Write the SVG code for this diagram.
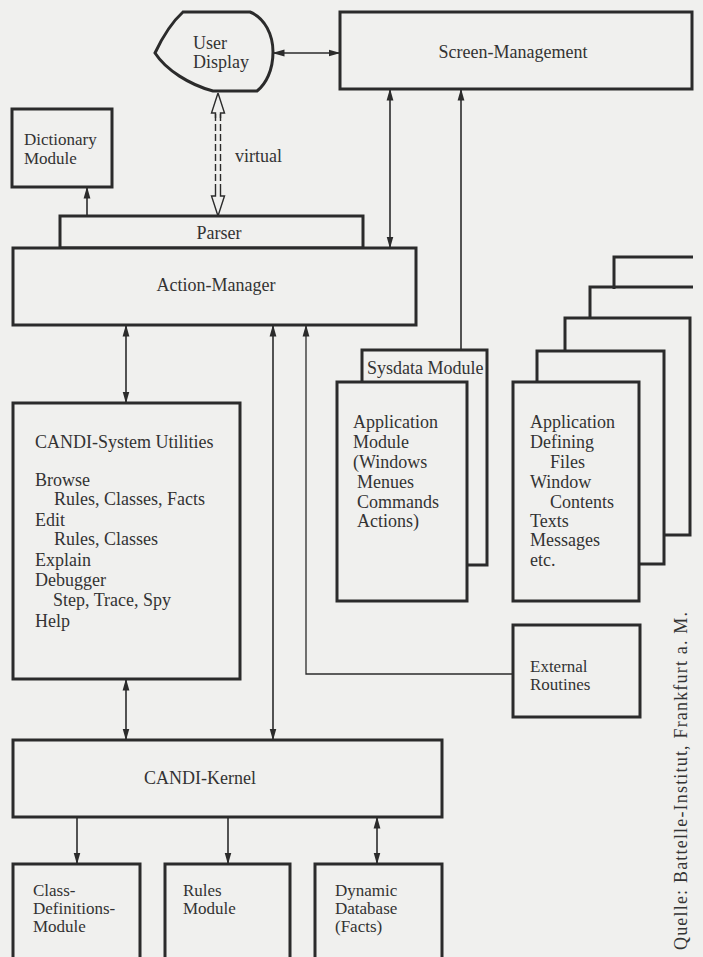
<svg xmlns="http://www.w3.org/2000/svg" width="703" height="957" viewBox="0 0 703 957">
  <style>
    .box { fill: #f0f0ee; stroke: #2b2b2b; stroke-width: 3; }
    .edge { fill: none; stroke: #2b2b2b; stroke-width: 1.6; }
    .thin { fill: none; stroke: #2b2b2b; stroke-width: 1.3; }
    text { font-family: "Liberation Serif", "Times New Roman", serif; font-size: 18px; fill: #333; }
    .mid { text-anchor: middle; }
    .tight { font-size: 17px; }
  </style>
  <defs>
    <marker id="arr" viewBox="0 0 12 8" refX="11.5" refY="4" markerWidth="12" markerHeight="8" markerUnits="userSpaceOnUse" orient="auto-start-reverse">
      <path d="M0,0.6 L12,4 L0,7.4 Z" fill="#2b2b2b"/>
    </marker>
  </defs>

  <rect x="0" y="0" width="703" height="957" fill="#f0f0ee"/>

  <!-- connectors -->
  <g id="connectors">
    <line class="edge" x1="273" y1="53" x2="340" y2="53" marker-start="url(#arr)" marker-end="url(#arr)"/>
    <line class="edge" x1="390" y1="89" x2="390" y2="248" marker-start="url(#arr)" marker-end="url(#arr)"/>
    <line class="edge" x1="461" y1="350" x2="461" y2="89" marker-end="url(#arr)"/>
    <line class="edge" x1="87" y1="216" x2="87" y2="187" marker-end="url(#arr)"/>
    <line class="edge" x1="126" y1="325" x2="126" y2="403" marker-start="url(#arr)" marker-end="url(#arr)"/>
    <line class="edge" x1="126" y1="679" x2="126" y2="740" marker-start="url(#arr)" marker-end="url(#arr)"/>
    <line class="edge" x1="273" y1="325" x2="273" y2="740" marker-start="url(#arr)" marker-end="url(#arr)"/>
    <path class="thin" d="M513,674 H306 V325" marker-end="url(#arr)"/>
    <line class="edge" x1="77" y1="817" x2="77" y2="864" marker-end="url(#arr)"/>
    <line class="edge" x1="228" y1="817" x2="228" y2="864" marker-end="url(#arr)"/>
    <line class="edge" x1="377" y1="817" x2="377" y2="864" marker-start="url(#arr)" marker-end="url(#arr)"/>

    <!-- virtual link: hollow double arrow with dashed double shaft -->
    <g id="virtual-link">
      <path d="M215.5,114 V194 M220.5,114 V194" fill="none" stroke="#2b2b2b" stroke-width="1.4" stroke-dasharray="7,3"/>
      <path d="M218,93 L211.5,113 L215.5,113 L215.5,118 M218,93 L224.5,113 L220.5,113 L220.5,118" fill="none" stroke="#2b2b2b" stroke-width="1.4"/>
      <path d="M218,216 L211.5,196 L215.5,196 L215.5,191 M218,216 L224.5,196 L220.5,196 L220.5,191" fill="none" stroke="#2b2b2b" stroke-width="1.4"/>
      <text x="235" y="162">virtual</text>
    </g>
  </g>

  <g id="user-display">
    <path class="box" d="M183,12 H250 C265,18 273,35 273,52 C273,70 266,84 257,91 H213 C190,85 166,70 155,53 C163,36 172,22 183,12 Z"/>
    <text x="193" y="49">User</text>
    <text x="193" y="68">Display</text>
  </g>

  <g id="screen-management">
    <rect class="box" x="340" y="12" width="352" height="77"/>
    <text class="mid" x="513" y="58">Screen-Management</text>
  </g>

  <g id="dictionary-module">
    <rect class="box" x="12" y="109" width="100" height="78"/>
    <text class="tight" x="24" y="145">Dictionary</text>
    <text class="tight" x="24" y="164">Module</text>
  </g>

  <g id="parser">
    <rect class="box" x="60" y="216" width="303" height="32"/>
    <text class="mid" x="219" y="239">Parser</text>
  </g>

  <g id="action-manager">
    <rect class="box" x="13" y="248" width="403" height="77"/>
    <text class="mid" x="216" y="291">Action-Manager</text>
  </g>

  <g id="candi-system-utilities">
    <rect class="box" x="13" y="403" width="227" height="276"/>
    <text x="35" y="448">CANDI-System Utilities</text>
    <text x="35" y="486">Browse</text>
    <text x="54" y="505">Rules, Classes, Facts</text>
    <text x="35" y="526">Edit</text>
    <text x="54" y="545">Rules, Classes</text>
    <text x="35" y="566">Explain</text>
    <text x="35" y="586">Debugger</text>
    <text x="53" y="606">Step, Trace, Spy</text>
    <text x="35" y="627">Help</text>
  </g>

  <g id="sysdata-module">
    <rect class="box" x="362" y="350" width="125" height="215"/>
    <text x="367" y="374">Sysdata Module</text>
  </g>

  <g id="application-module">
    <rect class="box" x="337" y="382" width="130" height="219"/>
    <text x="353" y="428">Application</text>
    <text x="353" y="448">Module</text>
    <text x="353" y="468">(Windows</text>
    <text x="357" y="488">Menues</text>
    <text x="357" y="508">Commands</text>
    <text x="357" y="527">Actions)</text>
  </g>

  <g id="application-defining-files">
    <path fill="none" stroke="#2b2b2b" stroke-width="3" d="M614,289 V257 H693"/>
    <path fill="none" stroke="#2b2b2b" stroke-width="3" d="M590,320 V287 H693"/>
    <rect class="box" x="565" y="318" width="125" height="217"/>
    <rect class="box" x="537" y="351" width="127" height="213"/>
    <rect class="box" x="513" y="382" width="126" height="219"/>
    <text x="530" y="428">Application</text>
    <text x="530" y="448">Defining</text>
    <text x="550" y="468">Files</text>
    <text x="530" y="488">Window</text>
    <text x="550" y="508">Contents</text>
    <text x="530" y="527">Texts</text>
    <text x="530" y="546">Messages</text>
    <text x="530" y="566">etc.</text>
  </g>

  <g id="external-routines">
    <rect class="box" x="513" y="625" width="127" height="92"/>
    <text class="tight" x="530" y="672">External</text>
    <text class="tight" x="530" y="690">Routines</text>
  </g>

  <g id="candi-kernel">
    <rect class="box" x="13" y="740" width="429" height="77"/>
    <text class="mid" x="200" y="784">CANDI-Kernel</text>
  </g>

  <g id="class-definitions-module">
    <rect class="box" x="13" y="864" width="127" height="110"/>
    <text class="tight" x="33" y="896">Class-</text>
    <text class="tight" x="33" y="914">Definitions-</text>
    <text class="tight" x="33" y="932">Module</text>
  </g>

  <g id="rules-module">
    <rect class="box" x="165" y="864" width="125" height="110"/>
    <text class="tight" x="183" y="896">Rules</text>
    <text class="tight" x="183" y="914">Module</text>
  </g>

  <g id="dynamic-database">
    <rect class="box" x="315" y="864" width="127" height="110"/>
    <text class="tight" x="335" y="896">Dynamic</text>
    <text class="tight" x="335" y="914">Database</text>
    <text class="tight" x="335" y="932">(Facts)</text>
  </g>

  <text transform="translate(687,950) rotate(-90)" font-size="17" textLength="338" lengthAdjust="spacing">Quelle:  Battelle-Institut,  Frankfurt a. M.</text>
</svg>
